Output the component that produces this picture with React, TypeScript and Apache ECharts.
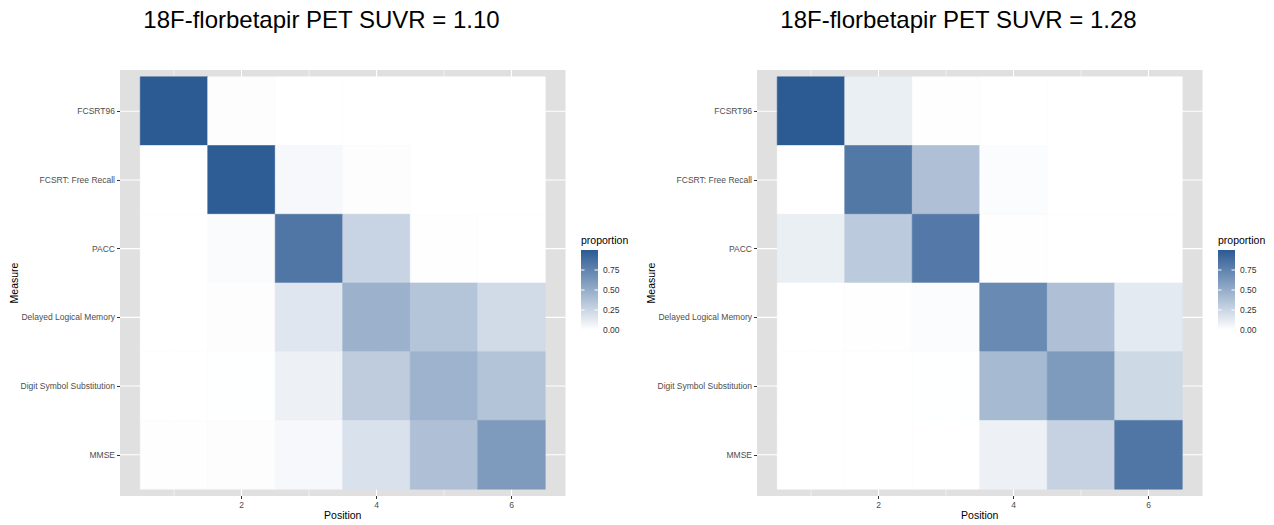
import React, { useEffect, useRef } from 'react';
import * as echarts from 'echarts';

const measures = ['FCSRT96', 'FCSRT: Free Recall', 'PACC', 'Delayed Logical Memory', 'Digit Symbol Substitution', 'MMSE'];
const positions = [1, 2, 3, 4, 5, 6];
const xTickValues = [2, 4, 6];
const legendBreaks = [0, 0.25, 0.5, 0.75];
const titles = ['18F-florbetapir PET SUVR = 1.10', '18F-florbetapir PET SUVR = 1.28'];

// proportion per measure (rows) and position (columns 1..6)
const propSuvr110 = [
  [1.0, 0.01, 0, 0, 0, 0],
  [0, 0.99, 0.04, 0.01, 0, 0],
  [0, 0.025, 0.83, 0.26, 0.005, 0],
  [0, 0.01, 0.15, 0.47, 0.35, 0.22],
  [0, 0.003, 0.085, 0.31, 0.46, 0.36],
  [0.005, 0.01, 0.04, 0.18, 0.38, 0.61],
];
const propSuvr128 = [
  [1.0, 0.1, 0.005, 0, 0, 0],
  [0, 0.82, 0.38, 0.02, 0, 0],
  [0.1, 0.32, 0.81, 0.005, 0, 0],
  [0, 0.005, 0.02, 0.71, 0.38, 0.13],
  [0, 0, 0.003, 0.42, 0.61, 0.23],
  [0, 0, 0, 0.085, 0.27, 0.83],
];

const LOW = '#FFFFFF';
const HIGH = '#2C5A93';
const FONT = '"Liberation Sans", Arial, Helvetica, sans-serif';
const PANEL_BG = '#E0E0E0';

function toData(rows: number[][]) {
  const out: number[][] = [];
  rows.forEach((row, i) => {
    row.forEach((v, j) => {
      out.push([positions[j], measures.length - i, v]);
    });
  });
  return out;
}

const gridLineData: number[][] = [
  ...positions.map((p) => [p, 0]),
  ...measures.map((_, i) => [i + 1, 1]),
];

export default function App() {
  const ref = useRef<HTMLDivElement>(null);
  useEffect(() => {
    if (!ref.current) return;
    const chart = echarts.init(ref.current, undefined, { renderer: 'svg' });

    const gridLefts = [120, 757];
    const gridW = 445.5;
    const gridTop = 70;
    const gridH = 428;

    const xAxes = gridLefts.map((_, gi) => ({
      type: 'value',
      gridIndex: gi,
      min: 0.2,
      max: 6.8,
      axisLine: { show: false },
      splitLine: { show: false },
      axisTick: { show: true, length: 3, lineStyle: { color: '#333333', width: 1 }, customValues: xTickValues },
      axisLabel: { customValues: xTickValues, fontSize: 8.5, color: '#4D4D4D', margin: 4, fontFamily: FONT },
      name: 'Position',
      nameLocation: 'middle',
      nameGap: 13,
      nameMoveOverlap: false,
      nameTextStyle: { fontSize: 10.5, color: '#000000', fontFamily: FONT },
    }));

    const yAxes = gridLefts.map((_, gi) => ({
      type: 'value',
      gridIndex: gi,
      min: 0.4,
      max: 6.6,
      axisLine: { show: false },
      splitLine: { show: false },
      axisTick: { show: true, length: 3, lineStyle: { color: '#333333', width: 1 }, customValues: positions },
      axisLabel: {
        customValues: positions,
        fontSize: 8.5,
        color: '#4D4D4D',
        margin: 5,
        fontFamily: FONT,
        formatter: (v: number) => measures[measures.length - Math.round(v)],
      },
      name: 'Measure',
      nameLocation: 'middle',
      nameGap: 101,
      nameMoveOverlap: false,
      nameRotate: 90,
      nameTextStyle: { fontSize: 10.5, color: '#000000', fontFamily: FONT },
    }));

    const tileSeries = [propSuvr110, propSuvr128].map((rows, gi) => ({
      type: 'custom',
      name: titles[gi],
      xAxisIndex: gi,
      yAxisIndex: gi,
      z: 2,
      encode: { x: 0, y: 1 },
      data: toData(rows),
      renderItem: (params: any, api: any) => {
        const x = api.value(0);
        const y = api.value(1);
        const a = api.coord([x - 0.5, y + 0.5]);
        const b = api.coord([x + 0.5, y - 0.5]);
        const c = api.visual('color');
        return {
          type: 'rect',
          shape: { x: a[0], y: a[1], width: b[0] - a[0], height: b[1] - a[1] },
          style: { fill: c, stroke: c, lineWidth: 0.6 },
        };
      },
    }));

    const gridSeries = gridLefts.map((_, gi) => ({
      type: 'custom',
      xAxisIndex: gi,
      yAxisIndex: gi,
      z: 1,
      silent: true,
      encode: { x: 0, y: 1 },
      data: gridLineData,
      renderItem: (params: any, api: any) => {
        const v = api.value(0);
        const kind = api.value(1);
        const cs = params.coordSys;
        if (kind === 0) {
          const px = api.coord([v, 3.5])[0];
          const major = xTickValues.indexOf(v) >= 0;
          return {
            type: 'line',
            shape: { x1: px, y1: cs.y, x2: px, y2: cs.y + cs.height },
            style: { stroke: '#FFFFFF', lineWidth: major ? 1.1 : 0.55 },
          };
        }
        const py = api.coord([3.5, v])[1];
        return {
          type: 'line',
          shape: { x1: cs.x, y1: py, x2: cs.x + cs.width, y2: py },
          style: { stroke: '#FFFFFF', lineWidth: 1.1 },
        };
      },
    }));

    const graphics: any[] = [];
    const titleCenters = [321.5, 958.5];
    titles.forEach((t, i) => {
      graphics.push({
        type: 'text',
        x: titleCenters[i],
        y: 19,
        style: { text: t, fontSize: 24, fontFamily: FONT, fill: '#000000', align: 'center', verticalAlign: 'middle' },
      });
    });

    const barW = 17;
    const barH = 80;
    const barTop = 250;
    gridLefts.forEach((gl) => {
      const bx = gl + gridW + 15.5;
      graphics.push({
        type: 'text',
        x: bx,
        y: 240,
        style: { text: 'proportion', fontSize: 10.5, fontFamily: FONT, fill: '#000000', align: 'left', verticalAlign: 'middle' },
      });
      graphics.push({
        type: 'rect',
        shape: { x: bx, y: barTop, width: barW, height: barH },
        style: {
          fill: new echarts.graphic.LinearGradient(0, 0, 0, 1, [
            { offset: 0, color: HIGH },
            { offset: 1, color: LOW },
          ]),
        },
      });
      legendBreaks.forEach((b) => {
        const by = barTop + barH - b * barH;
        graphics.push({
          type: 'line',
          shape: { x1: bx, y1: by, x2: bx + 3.5, y2: by },
          style: { stroke: '#FFFFFF', lineWidth: 1 },
        });
        graphics.push({
          type: 'line',
          shape: { x1: bx + barW - 3.5, y1: by, x2: bx + barW, y2: by },
          style: { stroke: '#FFFFFF', lineWidth: 1 },
        });
        graphics.push({
          type: 'text',
          x: bx + barW + 5,
          y: by,
          style: { text: b.toFixed(2), fontSize: 8.5, fontFamily: FONT, fill: '#333333', align: 'left', verticalAlign: 'middle' },
        });
      });
    });

    chart.setOption({
      animation: false,
      backgroundColor: '#FFFFFF',
      grid: gridLefts.map((gl) => ({
        left: gl,
        top: gridTop,
        width: gridW,
        height: gridH,
        show: true,
        backgroundColor: PANEL_BG,
        borderWidth: 0,
        containLabel: false,
      })),
      xAxis: xAxes,
      yAxis: yAxes,
      visualMap: {
        type: 'continuous',
        show: false,
        min: 0,
        max: 1,
        dimension: 2,
        seriesIndex: [0, 1],
        inRange: { color: [LOW, HIGH] },
      },
      series: [...tileSeries, ...gridSeries],
      graphic: graphics,
    });

    return () => chart.dispose();
  }, []);

  return <div ref={ref} style={{ position: 'fixed', left: 0, top: 0, width: 1274, height: 525 }} />;
}
